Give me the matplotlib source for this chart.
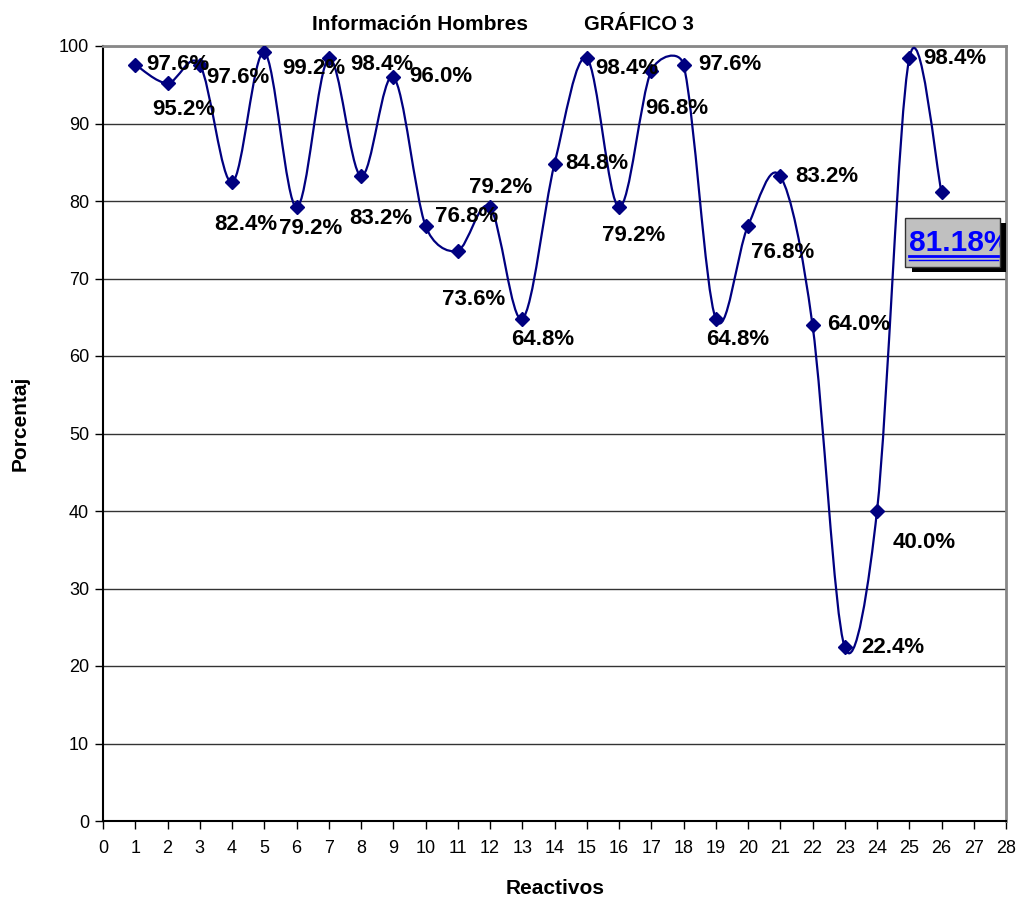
import numpy as np
import matplotlib.pyplot as plt
from matplotlib.path import Path
from matplotlib.patches import PathPatch, Rectangle

plt.rcParams['font.family'] = ['Liberation Sans', 'DejaVu Sans']

# Porcentaje de aciertos por reactivo (el 26 es el promedio)
reactivos = np.arange(1, 27)
porcentaje = [97.6, 95.2, 97.6, 82.4, 99.2, 79.2, 98.4, 83.2, 96.0, 76.8,
              73.6, 79.2, 64.8, 84.8, 98.4, 79.2, 96.8, 97.6, 64.8, 76.8,
              83.2, 64.0, 22.4, 40.0, 98.4, 81.18]
etiquetas = ['97.6%', '95.2%', '97.6%', '82.4%', '99.2%', '79.2%', '98.4%',
             '83.2%', '96.0%', '76.8%', '73.6%', '79.2%', '64.8%', '84.8%',
             '98.4%', '79.2%', '96.8%', '97.6%', '64.8%', '76.8%', '83.2%',
             '64.0%', '22.4%', '40.0%', '98.4%']
# desplazamiento de cada etiqueta en pixeles (dx, dy)
desplaz = [(43, 0), (16, -26), (38, -13), (14, -42), (50, -16), (14, -21),
           (53, -6), (20, -42), (48, 0), (41, 9), (16, -49), (11, 20),
           (20, -21), (42, 0), (40, -10), (15, -28), (26, -38), (46, 0),
           (22, -21), (35, -27), (47, 0), (46, 0), (48, 0), (47, -31),
           (46, 0)]
promedio = '81.18%'

azul = '#000080'

fig = plt.figure(figsize=(10.23, 8.99), dpi=100)
ax = fig.add_axes([103 / 1023, 1 - 821 / 899, 903 / 1023, 775 / 899])
ax.set_xlim(0, 28)
ax.set_ylim(0, 100)

# curva suavizada: Bezier tipo Catmull-Rom, tangente limitada por el tramo
x = np.asarray(reactivos, float)
y = np.asarray(porcentaje, float)
pix = ax.transData.transform(np.column_stack([x, y]))
ext = np.vstack([pix[0], pix, pix[-1]])
verts = [tuple(pix[0])]
codes = [Path.MOVETO]


def control(p0, p1, p2, lado):
    t = (p2 - p0) / 6
    lt = np.hypot(*t)
    tramo = np.hypot(*((p2 - p1) if lado > 0 else (p1 - p0)))
    if lt > 0.5 * tramo and lt > 0:
        t = t * 0.5 * tramo / lt
    return p1 + lado * t


for i in range(len(pix) - 1):
    c1 = control(ext[i], ext[i + 1], ext[i + 2], 1)
    c2 = control(ext[i + 1], ext[i + 2], ext[i + 3], -1)
    verts += [tuple(c1), tuple(c2), tuple(ext[i + 2])]
    codes += [Path.CURVE4] * 3
verts = ax.transData.inverted().transform(np.array(verts))
ax.add_patch(PathPatch(Path(verts, codes), fill=False, ec=azul, lw=1.6,
                       zorder=3))
ax.plot(x, y, ls='none', marker='D', ms=7.5, color=azul, zorder=4)

for xi, yi, lab, (dx, dy) in zip(x, y, etiquetas, desplaz):
    ax.annotate(lab, (xi, yi), xytext=(dx, dy), textcoords='offset pixels',
                ha='center', va='center', fontsize=16, fontweight='bold',
                zorder=5)

ax.set_xticks(range(0, 29))
ax.set_yticks(range(0, 101, 10))
ax.tick_params(axis='both', labelsize=13, length=6, width=1, color='black',
               direction='out')
ax.tick_params(axis='x', pad=8)
ax.tick_params(axis='y', pad=4)
ax.yaxis.grid(True, color='#333333', lw=1)
ax.set_axisbelow(True)
ax.spines['top'].set_color('#888888')
ax.spines['right'].set_color('#888888')
ax.spines['top'].set_linewidth(2)
ax.spines['right'].set_linewidth(2)
ax.spines['left'].set_linewidth(1.5)
ax.spines['bottom'].set_linewidth(1.5)

fig.text(420 / 1023, 1 - 24 / 899, 'Información Hombres', ha='center',
         va='center', fontsize=15, fontweight='bold')
fig.text(639 / 1023, 1 - 24 / 899, 'GRÁFICO 3', ha='center', va='center',
         fontsize=14.5, fontweight='bold')
fig.text(555 / 1023, 1 - 888 / 899, 'Reactivos', ha='center', va='center',
         fontsize=15, fontweight='bold')
fig.text(20 / 1023, 1 - 423 / 899, 'Porcentaj', ha='center', va='center',
         rotation=90, fontsize=15, fontweight='bold')

# cuadro con el promedio
sombra = Rectangle((912 / 1023, 1 - 272 / 899), 94 / 1023, 49 / 899,
                   transform=fig.transFigure, fc='black', ec='none',
                   zorder=6)
caja = Rectangle((905 / 1023, 1 - 267 / 899), 95 / 1023, 49 / 899,
                 transform=fig.transFigure, fc='#c0c0c0', ec='#333333',
                 lw=1, zorder=7)
fig.patches += [sombra, caja]
t = fig.text(909 / 1023, 1 - 243 / 899, promedio, ha='left', va='center',
             fontsize=21.5, fontweight='bold', color='#0000ff', zorder=8)
t.set_clip_on(True)
t.set_clip_path(caja)
fig.add_artist(plt.Line2D([909 / 1023, 998 / 1023],
                          [1 - 256 / 899, 1 - 256 / 899],
                          transform=fig.transFigure, color='#0000ff', lw=2,
                          zorder=8))
fig.add_artist(plt.Line2D([909 / 1023, 998 / 1023],
                          [1 - 259.5 / 899, 1 - 259.5 / 899],
                          transform=fig.transFigure, color='#0000ff', lw=1,
                          zorder=8))

fig.savefig('out.png', dpi=100)
